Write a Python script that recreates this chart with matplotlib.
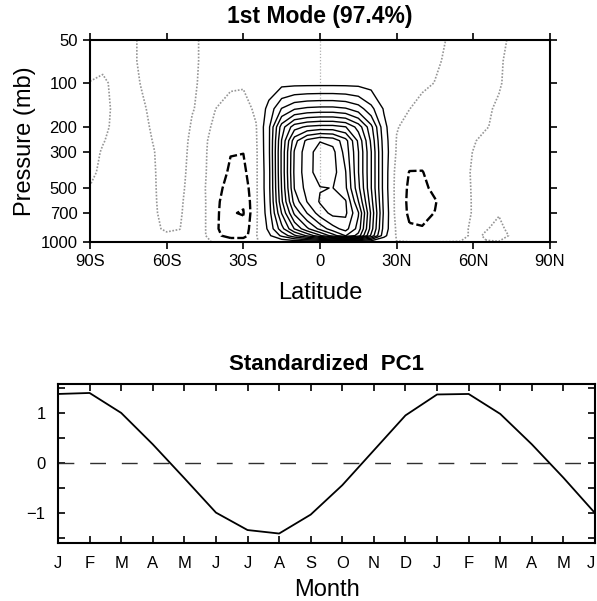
import numpy as np
import matplotlib
matplotlib.use("Agg")
import matplotlib.pyplot as plt

plt.rcParams['font.family'] = ['Liberation Sans', 'DejaVu Sans']

# ---------------- data: top panel (EOF1 latitude-pressure field) ----------------
lats = list(range(-90, 91, 5))
plevs = [1000, 925, 850, 700, 600, 500, 400, 300, 250, 200, 150, 100, 70, 50]

#            -90  -85  -80  -75  -70  -65  -60  -55  -50  -45   -40   -35   -30   -25   -20   -15   -10    -5     0     5    10    15    20    25    30    35    40    45    50    55    60    65    70    75    80    85    90
eof_1000 = [0.3, 0.3, 0.2, 0.15, 0.1, 0.1, 0.1, 0.1, 0.1, 0.05, -0.05, -0.1, -0.1, -0.02, 0.1, 0.1, 0.1, 0.1, 0.1, 0.1, 0.1, 0.1, 0.1, 0.1, 0.02, 0.02, 0.02, 0.02, 0.02, 0.02, 0.05, 0.02, 0.02, 0.05, 0.1, 0.15, 0.2]
eof_925 = [0.3, 0.3, 0.2, 0.15, 0.12, 0.1, 0.1, 0.1, 0.1, 0.05, -0.8, -1.5, -1.5, -0.05, 0.8, 2.2, 3.8, 5.2, 6.8, 8.5, 10.05, 8.6, 4.8, 1.3, -0.1, -0.4, -0.5, -0.45, -0.35, -0.15, 0.1, -0.05, -0.15, 0.05, 0.15, 0.2, 0.2]
eof_850 = [0.3, 0.3, 0.2, 0.15, 0.12, 0.1, -0.08, -0.01, 0.15, 0.05, -0.95, -1.8, -1.7, -0.1, 1.2, 3.6, 6.05, 7.8, 9.3, 10.6, 11.4, 9.6, 5.5, 1.6, -0.15, -0.9, -0.95, -0.7, -0.45, -0.15, 0.1, 0.02, -0.08, 0.1, 0.2, 0.2, 0.2]
eof_700 = [0.25, 0.3, 0.2, 0.15, 0.12, 0.08, -0.2, -0.04, 0.15, 0.05, -0.9, -1.95, -2.05, -0.15, 1.5, 5.05, 8.2, 10.05, 11.5, 12.3, 12.2, 10.1, 5.8, 1.8, -0.4, -1.15, -1.2, -0.98, -0.6, -0.25, 0.05, 0.1, 0.02, 0.15, 0.2, 0.2, 0.2]
eof_600 = [0.15, 0.25, 0.2, 0.15, 0.12, 0.07, -0.25, -0.06, 0.15, 0.05, -0.85, -1.8, -1.9, -0.15, 1.6, 5.8, 9.4, 11.05, 12.1, 12.5, 12.1, 9.05, 5.4, 1.7, -0.4, -1.2, -1.25, -1.05, -0.6, -0.25, 0.05, 0.15, 0.2, 0.2, 0.2, 0.2, 0.2]
eof_500 = [0.02, 0.15, 0.2, 0.15, 0.15, 0.06, -0.28, -0.1, 0.15, 0.02, -0.7, -1.5, -1.6, -0.15, 1.7, 6.05, 10.05, 11.4, 11.95, 12.02, 11.2, 8.3, 5.05, 1.6, -0.4, -1.15, -1.15, -0.85, -0.5, -0.2, 0.05, 0.15, 0.2, 0.2, 0.2, 0.2, 0.2]
eof_400 = [-0.1, 0.1, 0.2, 0.2, 0.2, 0.05, -0.3, -0.12, 0.12, 0.05, -0.45, -1.2, -1.25, -0.15, 1.7, 6.2, 10.2, 11.6, 12.5, 12.4, 11.05, 8.05, 5.05, 1.6, -0.35, -1.03, -1.03, -0.7, -0.4, -0.15, 0.05, 0.15, 0.2, 0.2, 0.2, 0.2, 0.2]
eof_300 = [-0.2, 0.05, 0.2, 0.2, 0.2, 0.02, -0.3, -0.15, 0.1, 0.05, -0.3, -0.95, -0.98, -0.15, 1.8, 6.2, 10.1, 11.6, 12.45, 12.3, 10.6, 8.05, 5.05, 1.6, -0.1, -0.6, -0.7, -0.5, -0.3, -0.12, 0.01, 0.15, 0.2, 0.2, 0.2, 0.2, 0.2]
eof_250 = [-0.25, -0.03, 0.15, 0.2, 0.2, -0.03, -0.3, -0.2, 0.1, 0.05, -0.2, -0.7, -0.75, -0.1, 1.8, 6.05, 9.6, 11.3, 11.95, 11.7, 10.4, 7.8, 4.8, 1.5, -0.05, -0.45, -0.55, -0.45, -0.3, -0.15, -0.03, 0.1, 0.2, 0.2, 0.2, 0.2, 0.2]
eof_200 = [-0.3, -0.1, 0.1, 0.2, 0.15, -0.08, -0.3, -0.25, 0.05, 0.08, -0.1, -0.5, -0.55, -0.05, 1.8, 5.5, 7.6, 8.2, 8.4, 8.4, 8.05, 6.6, 4.3, 1.3, 0.05, -0.25, -0.4, -0.35, -0.3, -0.2, -0.12, -0.02, 0.08, 0.15, 0.2, 0.2, 0.2]
eof_150 = [-0.3, -0.15, 0.1, 0.3, 0.1, -0.15, -0.3, -0.3, -0.02, 0.1, -0.02, -0.25, -0.3, 0.15, 1.3, 3.05, 3.9, 4.2, 4.3, 4.3, 4.1, 3.5, 2.3, 0.9, 0.2, 0.01, -0.2, -0.25, -0.25, -0.2, -0.15, -0.05, 0.05, 0.15, 0.2, 0.2, 0.2]
eof_100 = [-0.02, -0.15, 0.2, 0.2, -0.02, -0.3, -0.3, -0.3, -0.1, 0.15, 0.15, 0.1, 0.08, 0.15, 0.5, 0.7, 0.7, 0.7, 0.7, 0.7, 0.7, 0.7, 0.6, 0.5, 0.3, 0.2, 0.1, -0.01, -0.15, -0.2, -0.2, -0.15, -0.03, 0.1, 0.2, 0.2, 0.2]
eof_70 = [0.2, 0.2, 0.2, 0.2, -0.1, -0.3, -0.3, -0.3, -0.15, 0.15, 0.2, 0.25, 0.3, 0.3, 0.35, 0.4, 0.4, 0.4, 0.4, 0.4, 0.4, 0.4, 0.35, 0.3, 0.3, 0.25, 0.15, 0.05, -0.05, -0.15, -0.2, -0.15, -0.05, 0.1, 0.2, 0.2, 0.2]
eof_50 = [0.25, 0.25, 0.2, 0.2, -0.1, -0.3, -0.3, -0.3, -0.15, 0.15, 0.2, 0.25, 0.3, 0.3, 0.3, 0.3, 0.3, 0.3, 0.3, 0.3, 0.3, 0.3, 0.3, 0.3, 0.3, 0.2, 0.15, 0.1, -0.02, -0.12, -0.18, -0.15, -0.08, 0.05, 0.15, 0.2, 0.2]

field = np.array([eof_1000, eof_925, eof_850, eof_700, eof_600, eof_500, eof_400,
                  eof_300, eof_250, eof_200, eof_150, eof_100, eof_70, eof_50])

neg_levels = [-2, -1]
zero_levels = [0]
pos_levels = list(range(1, 13))

lat_ticks = [-90, -60, -30, 0, 30, 60, 90]
lat_labels = ['90S', '60S', '30S', '0', '30N', '60N', '90N']
p_ticks = [50, 100, 200, 300, 500, 700, 1000]
p_labels = ['50', '100', '200', '300', '500', '700', '1000']

# ---------------- data: bottom panel (standardized PC1) ----------------
months = ['J', 'F', 'M', 'A', 'M', 'J', 'J', 'A', 'S', 'O', 'N', 'D',
          'J', 'F', 'M', 'A', 'M', 'J']
pc1 = [1.39, 1.41, 1.01, 0.38, -0.30, -0.99, -1.34, -1.41, -1.03, -0.44, 0.26, 0.96,
       1.38, 1.39, 0.99, 0.38, -0.29, -1.00]

# ---------------- pressure axis scale (irregular, as in original) ----------------
_lp = np.log(np.array(p_ticks, float))
_off = np.array([0, 43, 87, 112, 148, 173, 202], float)


def p_forward(p):
    p = np.clip(np.asarray(p, float), 1e-6, None)
    lp = np.log(p)
    y = np.interp(lp, _lp, _off)
    s0 = (_off[1] - _off[0]) / (_lp[1] - _lp[0])
    s1 = (_off[-1] - _off[-2]) / (_lp[-1] - _lp[-2])
    y = np.where(lp < _lp[0], _off[0] + (lp - _lp[0]) * s0, y)
    y = np.where(lp > _lp[-1], _off[-1] + (lp - _lp[-1]) * s1, y)
    return y


def p_inverse(y):
    y = np.asarray(y, float)
    lp = np.interp(y, _off, _lp)
    s0 = (_lp[1] - _lp[0]) / (_off[1] - _off[0])
    s1 = (_lp[-1] - _lp[-2]) / (_off[-1] - _off[-2])
    lp = np.where(y < _off[0], _lp[0] + (y - _off[0]) * s0, lp)
    lp = np.where(y > _off[-1], _lp[-1] + (y - _off[-1]) * s1, lp)
    return np.exp(lp)


W, H = 597, 601
fig = plt.figure(figsize=(W / 100, H / 100), dpi=100)

# ---------------- top panel ----------------
ax = fig.add_axes([90 / W, 1 - 242 / H, 460 / W, 202 / H])
ax.set_yscale('function', functions=(p_forward, p_inverse))
ax.set_xlim(-90, 90)
ax.set_ylim(1000, 50)

ax.axvline(0, color='#b0b0b0', lw=0.9, ls=(0, (1, 1.5)), zorder=0.5)
ax.contour(lats, plevs, field, levels=zero_levels, colors='#969696',
           linewidths=1.2, linestyles=[(0, (1, 1))])
ax.contour(lats, plevs, field, levels=neg_levels, colors='k',
           linewidths=1.7, linestyles=[(0, (4, 1.3))])
ax.contour(lats, plevs, field, levels=pos_levels, colors='k',
           linewidths=1.0, linestyles='solid')

ax.set_xticks(lat_ticks)
ax.set_xticklabels(lat_labels)
ax.set_yticks(p_ticks)
ax.set_yticklabels(p_labels)
ax.minorticks_off()
ax.tick_params(direction='out', length=5, width=1.2, top=True, right=True,
               labelsize=12, pad=4)
for s in ax.spines.values():
    s.set_linewidth(1.5)
ax.set_title('1st Mode (97.4%)', fontsize=16.5, fontweight='bold', pad=12)
ax.set_xlabel('Latitude', fontsize=17, labelpad=9)
ax.set_ylabel('Pressure (mb)', fontsize=17, labelpad=3)

# ---------------- bottom panel ----------------
ax2 = fig.add_axes([58 / W, 1 - 543 / H, 537 / W, 159 / H])
x = np.arange(len(months))
ax2.axhline(0, color='#303030', lw=1.0, ls=(0, (11.4, 11.4)))
ax2.plot(x, pc1, color='k', lw=1.3)
ax2.set_xlim(0, len(months) - 1)
ax2.set_ylim(-1.6, 1.59)
ax2.set_xticks(x)
ax2.set_xticklabels(months)
ax2.get_xticklabels()[-1].set_horizontalalignment('right')
yt = [-1.5, -1, -0.5, 0, 0.5, 1, 1.5]
ax2.set_yticks(yt)
ax2.set_yticklabels(['', '\u22121', '', '0', '', '1', ''])
ax2.tick_params(direction='in', length=5, width=1.2, top=True, right=True,
                labelsize=12, pad=9)
for s in ax2.spines.values():
    s.set_linewidth(1.5)
ax2.set_title('Standardized  PC1', fontsize=16, fontweight='bold', pad=10)
ax2.set_xlabel('Month', fontsize=17, labelpad=6)

fig.savefig('out.png', dpi=100)
